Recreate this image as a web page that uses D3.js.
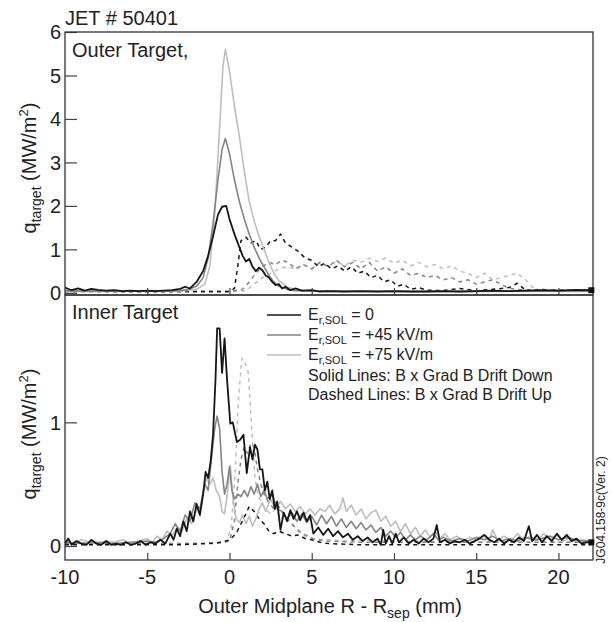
<!DOCTYPE html>
<html>
<head>
<meta charset="utf-8">
<script src="https://cdn.jsdelivr.net/npm/d3@7"></script>
<style>
  body { margin: 0; background: #fff; }
  svg text { font-family: "Liberation Sans", Arial, sans-serif; fill: #222; }
</style>
</head>
<body>
<div id="chart"></div>
<script>
// JET #50401 - target heat flux profiles, outer (top) and inner (bottom) target
// solid = B x grad B drift down, dashed = drift up; colour = E_r,SOL

var xTicks = [-10, -5, 0, 5, 10, 15, 20];
var outerYTicks = [0, 1, 2, 3, 4, 5, 6];
var innerYTicks = [0, 1];
var legendLabels = ["= 0", "= +45 kV/m", "= +75 kV/m"];

// outer target, drift down (solid)
var outerDown0 = [[-10,0.12],[-9.6,0.06],[-9.2,0.1],[-8.8,0.05],[-8.4,0.09],[-8,0.07],[-7.5,0.05],[-7,0.06],[-6.5,0.04],[-6,0.05],[-5.5,0.04],[-5,0.05],[-4.5,0.04],[-4,0.05],[-3.5,0.06],[-3,0.09],[-2.7,0.14],[-2.4,0.1],[-2,0.25],[-1.6,0.5],[-1.3,0.85],[-1,1.3],[-0.7,1.8],[-0.45,1.98],[-0.2,2.0],[0,1.7],[0.3,1.35],[0.6,1.05],[0.8,0.85],[1.0,0.72],[1.2,0.78],[1.4,0.6],[1.6,0.5],[1.8,0.58],[2.0,0.52],[2.2,0.4],[2.4,0.35],[2.6,0.25],[2.8,0.18],[3.0,0.2],[3.2,0.1],[3.4,0.14],[3.7,0.06],[4,0.1],[4.4,0.05],[5,0.06],[5.5,0.03],[6,0.04],[7,0.03],[8,0.04],[9,0.03],[10,0.04],[11,0.03],[12,0.03],[13,0.04],[14,0.03],[15,0.04],[16,0.05],[17,0.04],[18,0.05],[19,0.06],[20,0.05],[21,0.07],[22,0.06]];
var outerDown45 = [[-10,0.05],[-8,0.04],[-6,0.04],[-4,0.04],[-3,0.05],[-2.5,0.08],[-2,0.15],[-1.6,0.35],[-1.3,0.8],[-1,1.6],[-0.7,2.6],[-0.45,3.3],[-0.25,3.55],[0,3.2],[0.3,2.6],[0.6,2.1],[0.9,1.7],[1.2,1.35],[1.5,1.05],[1.8,0.8],[2.1,0.6],[2.4,0.4],[2.7,0.25],[3,0.15],[3.5,0.08],[4,0.05],[5,0.04],[7,0.03],[10,0.03],[14,0.03],[18,0.04],[22,0.04]];
var outerDown75 = [[-10,0.03],[-6,0.03],[-3,0.04],[-2,0.08],[-1.5,0.2],[-1.2,0.6],[-0.9,1.8],[-0.6,3.8],[-0.4,5.2],[-0.25,5.6],[0,5.1],[0.3,4.3],[0.6,3.6],[0.9,2.8],[1.2,2.1],[1.5,1.65],[1.8,1.3],[2.1,1.0],[2.4,0.7],[2.7,0.45],[3,0.28],[3.5,0.14],[4,0.07],[5,0.04],[8,0.03],[12,0.03],[16,0.03],[22,0.03]];

// outer target, drift up (dashed)
var outerUp0 = [[-10,0.04],[-6,0.03],[-3,0.03],[0,0.03],[0.3,0.1],[0.5,0.6],[0.7,1.2],[1.0,1.28],[1.3,1.15],[1.6,1.2],[1.9,1.0],[2.2,1.05],[2.5,1.2],[2.8,1.2],[3.1,1.35],[3.4,1.15],[3.8,1.05],[4.2,0.95],[4.6,0.8],[5,0.75],[5.4,0.6],[5.8,0.68],[6.2,0.55],[6.6,0.62],[7,0.5],[7.4,0.6],[7.8,0.45],[8.2,0.5],[8.6,0.35],[9,0.4],[9.4,0.25],[9.8,0.3],[10.2,0.15],[10.6,0.2],[11,0.08],[11.5,0.12],[12,0.06],[13,0.05],[14,0.1],[15,0.05],[16,0.08],[17,0.12],[17.5,0.22],[18,0.06],[19,0.05],[20,0.06],[21,0.05],[22,0.06]];
var outerUp45 = [[-10,0.03],[-4,0.03],[0,0.03],[0.8,0.08],[1.2,0.25],[1.6,0.45],[2,0.6],[2.4,0.7],[2.8,0.65],[3.2,0.75],[3.6,0.7],[4,0.55],[4.5,0.65],[5,0.55],[5.5,0.7],[6,0.6],[6.5,0.75],[7,0.6],[7.5,0.7],[8,0.55],[8.5,0.7],[9,0.5],[9.5,0.6],[10,0.45],[10.5,0.55],[11,0.4],[11.5,0.45],[12,0.35],[12.5,0.4],[13,0.3],[13.5,0.35],[14,0.25],[14.5,0.3],[15,0.2],[15.5,0.25],[16,0.3],[16.5,0.2],[17,0.1],[18,0.06],[19,0.08],[20,0.05],[21,0.06],[22,0.05]];
var outerUp75 = [[-10,0.02],[0,0.02],[1,0.05],[1.5,0.2],[2,0.35],[2.5,0.45],[3,0.55],[3.5,0.6],[4,0.55],[4.5,0.65],[5,0.55],[5.5,0.7],[6,0.62],[6.5,0.72],[7,0.62],[7.5,0.75],[8,0.7],[8.5,0.8],[9,0.72],[9.5,0.8],[10,0.68],[10.5,0.75],[11,0.62],[11.5,0.7],[12,0.6],[12.5,0.65],[13,0.55],[13.5,0.62],[14,0.5],[14.5,0.45],[15,0.35],[15.5,0.45],[16,0.3],[16.5,0.35],[17,0.4],[17.5,0.45],[18,0.3],[18.5,0.1],[19,0.05],[20,0.06],[21,0.04],[22,0.05]];

// inner target, drift down (solid)
var innerDown0 = [[-10,0.02],[-9.8,0.06],[-9.6,0.01],[-9.3,0.04],[-9,0.02],[-8.7,0.01],[-8.4,0.05],[-8.1,0.02],[-7.8,0.01],[-7.5,0.04],[-7.2,0.01],[-6.9,0.02],[-6.6,0.01],[-6.3,0.03],[-6,0.01],[-5.7,0.02],[-5.4,0.04],[-5.1,0.01],[-4.8,0.03],[-4.5,0.02],[-4.2,0.05],[-3.9,0.02],[-3.6,0.1],[-3.4,0.05],[-3.2,0.14],[-3.0,0.08],[-2.8,0.2],[-2.6,0.12],[-2.4,0.28],[-2.2,0.2],[-2.0,0.34],[-1.8,0.25],[-1.6,0.42],[-1.45,0.6],[-1.3,0.55],[-1.15,0.68],[-1.0,0.9],[-0.85,1.35],[-0.75,1.76],[-0.6,1.76],[-0.45,1.4],[-0.3,1.68],[-0.15,1.35],[0.05,0.99],[0.2,1.0],[0.45,0.84],[0.65,0.86],[0.85,0.9],[1.05,0.59],[1.25,0.8],[1.4,0.7],[1.55,0.82],[1.7,0.78],[1.85,0.62],[2.0,0.62],[2.15,0.45],[2.3,0.52],[2.45,0.38],[2.6,0.45],[2.75,0.3],[2.9,0.36],[3.1,0.13],[3.3,0.27],[3.5,0.2],[3.7,0.29],[3.9,0.22],[4.1,0.28],[4.3,0.21],[4.5,0.27],[4.7,0.2],[4.9,0.25],[5.1,0.1],[5.4,0.15],[5.7,0.09],[6.0,0.14],[6.3,0.08],[6.6,0.12],[6.9,0.07],[7.2,0.1],[7.5,0.05],[7.8,0.08],[8.1,0.04],[8.4,0.07],[8.7,0.03],[9.0,0.06],[9.2,0.01],[9.35,0.13],[9.5,0.02],[9.7,0.08],[9.9,0.02],[10.1,0.1],[10.3,0.03],[10.6,0.07],[10.9,0.02],[11.2,0.05],[11.5,0.02],[11.8,0.06],[12.1,0.03],[12.4,0.06],[12.6,0.17],[12.8,0.03],[13.1,0.05],[13.4,0.02],[13.7,0.04],[14.0,0.03],[14.3,0.05],[14.6,0.02],[14.9,0.04],[15.2,0.06],[15.5,0.09],[15.8,0.05],[16.1,0.03],[16.4,0.06],[16.7,0.02],[17.0,0.05],[17.3,0.03],[17.6,0.07],[17.9,0.04],[18.2,0.16],[18.4,0.04],[18.7,0.09],[19.0,0.03],[19.3,0.08],[19.6,0.04],[19.9,0.1],[20.2,0.05],[20.5,0.09],[20.8,0.04],[21.1,0.06],[21.4,0.02],[21.7,0.03],[22.0,0.03]];
var innerDown45 = [[-10,0.03],[-9,0.02],[-8,0.03],[-7,0.02],[-6,0.03],[-5,0.04],[-4.5,0.03],[-4,0.06],[-3.6,0.1],[-3.3,0.18],[-3.0,0.12],[-2.7,0.25],[-2.4,0.2],[-2.1,0.35],[-1.8,0.3],[-1.5,0.5],[-1.3,0.45],[-1.1,0.7],[-0.9,0.95],[-0.75,1.05],[-0.6,0.95],[-0.45,0.6],[-0.3,0.42],[-0.15,0.5],[0,0.64],[0.15,0.45],[0.3,0.38],[0.5,0.42],[0.7,0.4],[0.9,0.45],[1.1,0.4],[1.3,0.48],[1.5,0.42],[1.7,0.5],[1.9,0.4],[2.1,0.45],[2.3,0.38],[2.6,0.42],[2.9,0.3],[3.2,0.28],[3.5,0.22],[3.8,0.27],[4.1,0.2],[4.4,0.26],[4.7,0.19],[5.0,0.24],[5.3,0.17],[5.6,0.25],[5.9,0.18],[6.2,0.24],[6.5,0.16],[6.8,0.22],[7.1,0.15],[7.4,0.2],[7.7,0.14],[8.0,0.19],[8.3,0.13],[8.6,0.17],[8.9,0.11],[9.2,0.15],[9.5,0.08],[9.8,0.12],[10.1,0.07],[10.4,0.11],[10.7,0.05],[11.0,0.09],[11.3,0.05],[11.6,0.08],[12.0,0.05],[12.4,0.1],[12.7,0.05],[13.0,0.07],[13.5,0.04],[14,0.06],[14.5,0.04],[15,0.07],[15.5,0.05],[16,0.08],[16.5,0.04],[17,0.06],[17.5,0.04],[18,0.07],[18.5,0.05],[19,0.06],[19.5,0.08],[20,0.05],[20.5,0.07],[21,0.05],[21.5,0.04],[22,0.04]];
var innerDown75 = [[-10,0.04],[-9.5,0.02],[-9,0.05],[-8.5,0.03],[-8,0.02],[-7.5,0.04],[-7,0.03],[-6.5,0.05],[-6,0.02],[-5.5,0.04],[-5,0.06],[-4.7,0.03],[-4.4,0.08],[-4.1,0.05],[-3.8,0.12],[-3.5,0.08],[-3.2,0.15],[-2.9,0.12],[-2.6,0.22],[-2.3,0.18],[-2.0,0.3],[-1.8,0.26],[-1.6,0.45],[-1.4,0.55],[-1.2,0.5],[-1.0,0.55],[-0.8,0.45],[-0.6,0.4],[-0.45,0.28],[-0.3,0.26],[-0.15,0.4],[0.05,0.65],[0.2,0.4],[0.4,0.22],[0.6,0.19],[0.8,0.25],[1.0,0.18],[1.2,0.24],[1.4,0.16],[1.6,0.22],[1.8,0.3],[2.0,0.35],[2.2,0.28],[2.5,0.38],[2.8,0.3],[3.1,0.36],[3.4,0.3],[3.7,0.34],[4.0,0.28],[4.3,0.32],[4.6,0.26],[4.9,0.3],[5.2,0.25],[5.5,0.3],[5.8,0.28],[6.1,0.33],[6.4,0.26],[6.7,0.3],[6.9,0.39],[7.1,0.28],[7.4,0.33],[7.7,0.25],[8.0,0.3],[8.3,0.22],[8.6,0.27],[8.9,0.29],[9.2,0.2],[9.5,0.24],[9.8,0.16],[10.1,0.2],[10.4,0.12],[10.7,0.18],[11.0,0.1],[11.3,0.15],[11.6,0.08],[11.9,0.13],[12.2,0.07],[12.5,0.12],[12.8,0.06],[13.1,0.1],[13.4,0.05],[13.8,0.08],[14.2,0.04],[14.6,0.07],[15.0,0.05],[15.4,0.09],[15.8,0.04],[16.0,0.13],[16.3,0.05],[16.7,0.08],[17.1,0.04],[17.5,0.1],[17.9,0.05],[18.3,0.08],[18.7,0.04],[19.1,0.1],[19.5,0.05],[19.9,0.09],[20.3,0.04],[20.7,0.07],[21.1,0.04],[21.5,0.05],[22,0.03]];

// inner target, drift up (dashed)
var innerUp0 = [[-10,0.01],[-6,0.01],[-3,0.01],[-1.5,0.02],[-0.5,0.03],[0,0.05],[0.4,0.1],[0.7,0.18],[1.0,0.26],[1.2,0.32],[1.5,0.28],[1.8,0.22],[2.1,0.18],[2.4,0.12],[2.7,0.1],[3.0,0.12],[3.4,0.1],[3.8,0.08],[4.2,0.09],[4.6,0.06],[5,0.05],[5.5,0.03],[6,0.02],[8,0.01],[12,0.01],[16,0.01],[22,0.01]];
var innerUp45 = [[-10,0.02],[-5,0.02],[-1,0.02],[0,0.04],[0.3,0.2],[0.5,0.5],[0.7,0.7],[0.9,0.8],[1.1,0.75],[1.3,0.83],[1.5,0.8],[1.7,0.62],[1.9,0.5],[2.1,0.42],[2.4,0.35],[2.7,0.3],[3.0,0.32],[3.3,0.25],[3.6,0.2],[4.0,0.15],[4.4,0.1],[4.8,0.08],[5.2,0.05],[6,0.04],[8,0.03],[12,0.03],[16,0.03],[22,0.03]];
var innerUp75 = [[-10,0.02],[-5,0.02],[-1,0.02],[-0.2,0.03],[0.1,0.15],[0.35,0.6],[0.55,1.2],[0.75,1.52],[0.95,1.48],[1.15,1.4],[1.35,0.95],[1.55,0.55],[1.75,0.4],[1.95,0.35],[2.2,0.3],[2.5,0.26],[2.8,0.3],[3.1,0.22],[3.4,0.25],[3.8,0.18],[4.2,0.12],[4.6,0.08],[5,0.06],[6,0.05],[7,0.04],[8,0.05],[10,0.04],[14,0.03],[18,0.03],[22,0.03]];

var colBlack = "#161616", colGray = "#858585", colLight = "#bebebe";

var W = 612, H = 622;
var svg = d3.select("#chart").append("svg")
  .attr("width", W).attr("height", H);

var x = d3.scaleLinear().domain([-10, 22.1]).range([65, 593]);
var yOuter = d3.scaleLinear().domain([-0.05, 6]).range([295, 32]);
var yInner = d3.scaleLinear().domain([-0.113, 2.03]).range([560, 295]);

function drawPanel(id, y, series, yTicks) {
  var g = svg.append("g");
  var y0 = y.range()[0], y1 = y.range()[1];

  svg.append("clipPath").attr("id", id)
    .append("rect").attr("x", x.range()[0]).attr("y", y1)
    .attr("width", x.range()[1] - x.range()[0]).attr("height", y0 - y1);

  var line = d3.line().x(d => x(d[0])).y(d => y(d[1]));

  var lines = g.append("g").attr("clip-path", "url(#" + id + ")");
  series.forEach(function(s) {
    lines.append("path")
      .attr("d", line(s.data))
      .attr("fill", "none")
      .attr("stroke", s.color)
      .attr("stroke-width", s.width)
      .attr("stroke-dasharray", s.dash || null)
      .attr("stroke-linejoin", "round");
  });

  // inward ticks
  var yAxis = d3.axisRight(y).tickValues(yTicks).tickSize(12).tickFormat("");
  g.append("g").attr("transform", "translate(" + x.range()[0] + ",0)").call(yAxis)
    .call(a => a.select(".domain").remove())
    .selectAll("line").attr("stroke", "#444").attr("stroke-width", 1.2);

  var xAxis = d3.axisTop(x).tickValues(xTicks.slice(1)).tickSize(7).tickFormat("");
  g.append("g").attr("transform", "translate(0," + y0 + ")").call(xAxis)
    .call(a => a.select(".domain").remove())
    .selectAll("line").attr("stroke", "#444").attr("stroke-width", 1.2);

  // y labels
  g.selectAll("text.ylab").data(yTicks).enter().append("text")
    .attr("class", "ylab")
    .attr("x", 61).attr("y", d => y(d)).attr("dy", "0.36em")
    .attr("text-anchor", "end").attr("font-size", 20)
    .text(d => d);

  // frame
  g.append("rect").attr("x", x.range()[0]).attr("y", y1)
    .attr("width", x.range()[1] - x.range()[0]).attr("height", y0 - y1)
    .attr("fill", "none").attr("stroke", "#333").attr("stroke-width", 1.3);

  // end marker of black solid line (drawn last in the list)
  var blk = series[series.length - 1].data;
  var last = blk[blk.length - 1];
  g.append("rect").attr("x", x(last[0]) - 3).attr("y", y(last[1]) - 3)
    .attr("width", 6).attr("height", 6).attr("fill", "#111");
}

// dashed underneath, black solid on top
function seriesSet(d0, d45, d75, u0, u45, u75) {
  return [
    {data: u75, color: colLight, width: 1.5, dash: "4,4"},
    {data: u45, color: colGray, width: 1.5, dash: "4,4"},
    {data: u0, color: colBlack, width: 1.5, dash: "4,4"},
    {data: d75, color: colLight, width: 1.6},
    {data: d45, color: colGray, width: 1.6},
    {data: d0, color: colBlack, width: 1.8}
  ];
}

drawPanel("clipOuter", yOuter,
  seriesSet(outerDown0, outerDown45, outerDown75, outerUp0, outerUp45, outerUp75), outerYTicks);
drawPanel("clipInner", yInner,
  seriesSet(innerDown0, innerDown45, innerDown75, innerUp0, innerUp45, innerUp75), innerYTicks);

// x tick labels
svg.selectAll("text.xlab").data(xTicks).enter().append("text")
  .attr("class", "xlab")
  .attr("x", d => x(d)).attr("y", 584)
  .attr("text-anchor", "middle").attr("font-size", 20)
  .text(d => d);

// x title
var xt = svg.append("text").attr("x", 330).attr("y", 613)
  .attr("text-anchor", "middle").attr("font-size", 20);
xt.append("tspan").text("Outer Midplane R - R");
xt.append("tspan").attr("font-size", 14).attr("dy", 5).text("sep");
xt.append("tspan").attr("dy", -5).text(" (mm)");

// y titles
function yTitle(cy) {
  var t = svg.append("text")
    .attr("transform", "translate(36," + cy + ") rotate(-90)")
    .attr("text-anchor", "middle").attr("font-size", 20);
  t.append("tspan").text("q");
  t.append("tspan").attr("font-size", 14).attr("dy", 5).text("target");
  t.append("tspan").attr("dy", -5).text(" (MW/m");
  t.append("tspan").attr("font-size", 13).attr("dy", -8).text("2");
  t.append("tspan").attr("dy", 8).text(")");
}
yTitle(168);
yTitle(434);

// titles
svg.append("text").attr("x", 65).attr("y", 25).attr("font-size", 20).text("JET # 50401");
svg.append("text").attr("x", 72).attr("y", 57).attr("font-size", 20).text("Outer Target,");
svg.append("text").attr("x", 72).attr("y", 319).attr("font-size", 20).text("Inner Target");

// legend
var legCols = [colBlack, colGray, colLight];
var leg = svg.append("g");
legendLabels.forEach(function(lab, i) {
  var by = 320 + i * 20;
  leg.append("line").attr("x1", 267).attr("x2", 301)
    .attr("y1", by - 5).attr("y2", by - 5)
    .attr("stroke", legCols[i]).attr("stroke-width", 1.6);
  var t = leg.append("text").attr("x", 308).attr("y", by).attr("font-size", 16);
  t.append("tspan").text("E");
  t.append("tspan").attr("font-size", 11).attr("dy", 4).text("r,SOL");
  t.append("tspan").attr("dy", -4).text(" " + lab);
});
leg.append("text").attr("x", 308).attr("y", 381).attr("font-size", 16)
  .text("Solid Lines: B x Grad B Drift Down");
leg.append("text").attr("x", 308).attr("y", 400).attr("font-size", 16)
  .text("Dashed Lines: B x Grad B Drift Up");

// figure id
svg.append("text")
  .attr("transform", "translate(605,510) rotate(-90)")
  .attr("text-anchor", "middle").attr("font-size", 12)
  .text("JG04.158-9c(Ver. 2)");
</script>
</body>
</html>
